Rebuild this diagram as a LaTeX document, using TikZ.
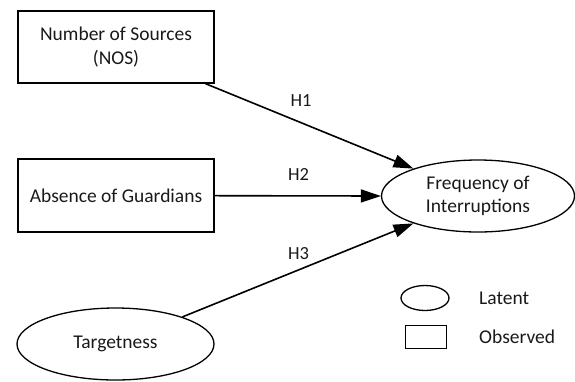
\documentclass[tikz,border=0pt]{standalone}
\usepackage{fontspec}
\setmainfont{Carlito}
\usetikzlibrary{shapes.geometric,arrows.meta}
\begin{document}
\begin{tikzpicture}[x=1pt,y=-1pt,
  every node/.style={font=\fontsize{19.5}{24}\selectfont, text=black!90},
  obsbox/.style={draw, line width=1.3pt, rectangle, minimum width=196pt, minimum height=72pt, align=center, inner sep=0pt},
  latent/.style={draw, line width=1.3pt, ellipse, inner sep=0pt, align=center},
  path/.style={line width=1.6pt, -{Triangle[length=20pt,width=13pt]}},
  hlab/.style={font=\fontsize{18.5}{22}\selectfont}]
\useasboundingbox (0,0) rectangle (575,381);
\node[obsbox] (nos) at (116,47) {Number of Sources\\(NOS)};
\node[obsbox, minimum height=73pt] (aog) at (116,195.5) {Absence of Guardians};
\node[latent, minimum width=197pt, minimum height=72pt] (tgt) at (115.5,344) {Targetness};
\node[latent, minimum width=193pt, minimum height=72pt, font=\fontsize{19.5}{23}\selectfont] (foi) at (478,196) {Frequency of\\Interruptions};
\draw[path] (nos) -- (foi.157);
\draw[path] (aog) -- (foi.west);
\draw[path] (tgt) -- (foi.203);
\node[hlab] (h1) at (301,101) {H1};
\node[hlab] (h2) at (298.5,174) {H2};
\node[hlab] (h3) at (298.5,254) {H3};
\node[latent, minimum width=48pt, minimum height=25pt] (legl) at (425,298) {};
\node[draw, line width=1.3pt, minimum width=41pt, minimum height=22.5pt, inner sep=0pt] (lego) at (426,337) {};
\node[anchor=west, inner sep=0pt] (latt) at (479,298) {Latent};
\node[anchor=west, inner sep=0pt] (obst) at (479,337) {Observed};
\end{tikzpicture}
\end{document}
